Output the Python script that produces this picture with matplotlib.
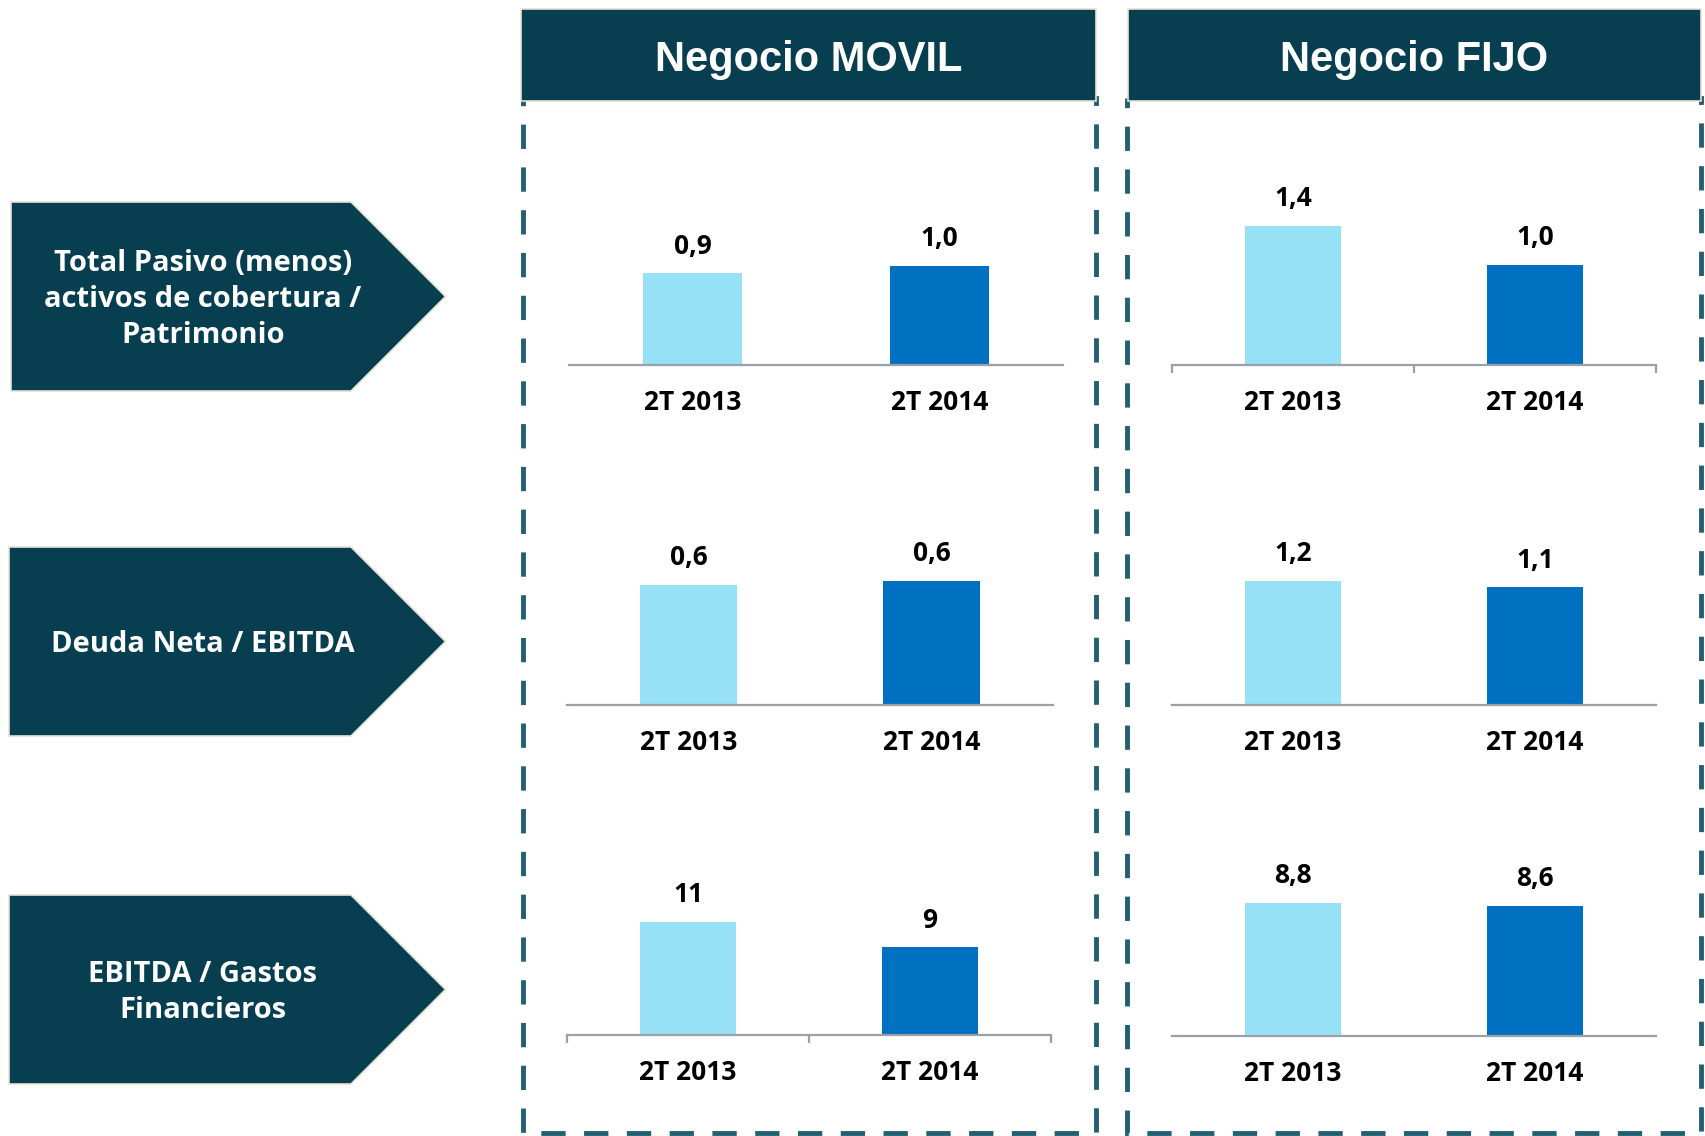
import matplotlib
matplotlib.use("Agg")
import matplotlib.pyplot as plt
from matplotlib.patches import Polygon, Rectangle

# ---------------- data ----------------
categories = ["2T 2013", "2T 2014"]
groups = ["Negocio MOVIL", "Negocio FIJO"]
metrics = ["Total Pasivo (menos)\nactivos de cobertura /\nPatrimonio",
           "Deuda Neta / EBITDA",
           "EBITDA / Gastos\nFinancieros"]

movil_pasivo = [0.92, 1.0]
movil_deuda = [0.59, 0.61]
movil_ebitda = [11.2, 8.7]
fijo_pasivo = [1.39, 1.0]
fijo_deuda = [1.16, 1.10]
fijo_ebitda = [8.8, 8.6]

movil_pasivo_lbl = ["0,9", "1,0"]
movil_deuda_lbl = ["0,6", "0,6"]
movil_ebitda_lbl = ["11", "9"]
fijo_pasivo_lbl = ["1,4", "1,0"]
fijo_deuda_lbl = ["1,2", "1,1"]
fijo_ebitda_lbl = ["8,8", "8,6"]

# ---------------- style ----------------
W, H = 1706, 1136
DARK = "#073F50"
LIGHT_BAR = "#97E1F7"
DARK_BAR = "#0070C0"
DASH = "#225F70"
AXIS = "#9AA0A6"
BORDER = "#E6E2D3"
NUM_FONT = ["Open Sans", "DejaVu Sans"]

fig = plt.figure(figsize=(W / 100, H / 100), dpi=100)
bg = fig.add_axes([0, 0, 1, 1])
bg.set_xlim(0, W)
bg.set_ylim(H, 0)
bg.axis("off")

# dashed boxes
for x0, x1 in [(523, 1096), (1127, 1701)]:
    bg.add_patch(Rectangle((x0, 98), x1 - x0, 1133 - 98, fill=False,
                           edgecolor=DASH, linewidth=3.5,
                           linestyle=(0, (5.0, 3.8)), zorder=1))

# headers
for (x0, x1), name in zip([(521, 1096), (1128, 1701)], groups):
    bg.add_patch(Rectangle((x0, 9), x1 - x0, 92, facecolor=DARK,
                           edgecolor=BORDER, linewidth=1.2, zorder=3))
    bg.text((x0 + x1) / 2, 60, name, color="white", fontsize=30,
            fontweight="bold", family="Liberation Sans",
            ha="center", va="center", zorder=4)

# arrows with metric names
arrow_rows = [(11, 202, 391), (9, 547, 736), (9, 895, 1084)]
for (x0, y0, y1), text in zip(arrow_rows, metrics):
    ym = (y0 + y1) / 2
    poly = [(x0, y0), (351, y0), (351 + (ym - y0), ym), (351, y1), (x0, y1)]
    bg.add_patch(Polygon(poly, closed=True, facecolor=DARK,
                         edgecolor=BORDER, linewidth=1.2, zorder=3))
    bg.text(203, ym + 3, text, color="white", fontsize=21, fontweight="bold",
            family=NUM_FONT, ha="center", va="center", linespacing=1.3,
            multialignment="center", zorder=4)

# ---------------- bar charts ----------------
charts = [
    # (values, labels, x0, x1, baseline, tallest bar px, edge ticks)
    (movil_pasivo, movil_pasivo_lbl, 569, 1063, 364.5, 99, False),
    (movil_deuda, movil_deuda_lbl, 567, 1053, 705, 124, False),
    (movil_ebitda, movil_ebitda_lbl, 567, 1051, 1035, 113, True),
    (fijo_pasivo, fijo_pasivo_lbl, 1172, 1656, 364.5, 139, True),
    (fijo_deuda, fijo_deuda_lbl, 1172, 1656, 705, 124, False),
    (fijo_ebitda, fijo_ebitda_lbl, 1172, 1656, 1036, 133, False),
]
AX_H = 170
for vals, lbls, x0, x1, base, maxpx, edge_ticks in charts:
    ax = fig.add_axes([x0 / W, (H - base) / H, (x1 - x0) / W, AX_H / H])
    ax.patch.set_alpha(0)
    xs = list(range(len(categories)))
    bars = ax.bar(xs, vals, width=0.4, color=[LIGHT_BAR, DARK_BAR], zorder=2)
    ax.set_xlim(-0.5, len(categories) - 0.5)
    ax.set_ylim(0, max(vals) * AX_H / maxpx)
    for b, lab in zip(bars, lbls):
        ax.annotate(lab, (b.get_x() + b.get_width() / 2, b.get_height()),
                    xytext=(0, 19.5), textcoords="offset points",
                    ha="center", va="center", fontsize=19, fontweight="bold",
                    family=NUM_FONT, color="black")
    for s in ["top", "right", "left"]:
        ax.spines[s].set_visible(False)
    ax.spines["bottom"].set_color(AXIS)
    ax.spines["bottom"].set_linewidth(1.6)
    ax.set_yticks([])
    ax.set_xticks(xs)
    ax.set_xticklabels(categories, fontsize=19, fontweight="bold",
                       family=NUM_FONT)
    for t in ax.get_xticklabels():
        t.set_va("center")
    ax.tick_params(axis="x", which="major", length=0, pad=27)
    if edge_ticks:
        ax.set_xticks([-0.5, 0.5, 1.5], minor=True)
        ax.tick_params(axis="x", which="minor", length=6, width=1.6,
                       color=AXIS)

fig.savefig("out.png", dpi=100)
